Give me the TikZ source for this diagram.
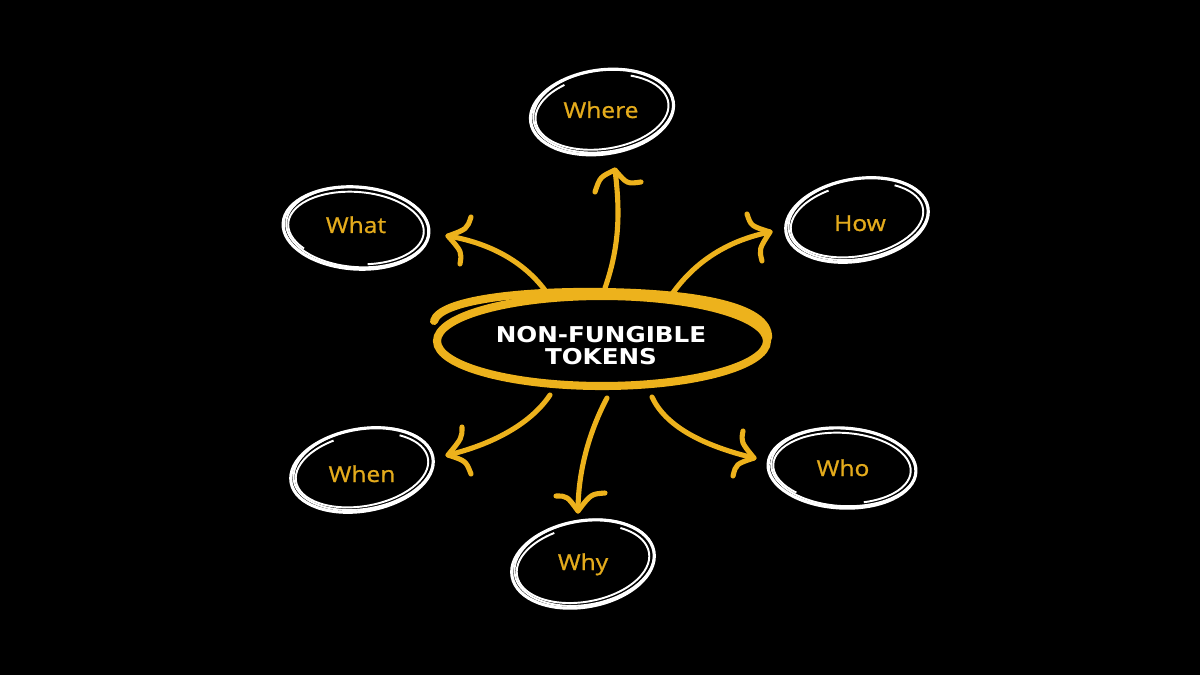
\documentclass[tikz,border=0pt]{standalone}
\usepackage{fontspec}
\setmainfont{Open Sans}
\newfontfamily\lblfont{Open Sans}[FakeBold=0.9]
\newfontfamily\headfont{DejaVu Sans}
\usepackage{graphicx}
\definecolor{nftgold}{HTML}{EDB21C}
\definecolor{lblgold}{HTML}{E4AB1C}
\tikzset{
  shaft/.style={draw=nftgold, line width=2.9pt, line cap=round, line join=round},
  barb/.style={shaft},
  hubring/.style={draw=nftgold, line width=4.6pt, line cap=round},
  ringline/.style={draw=white, line width=1.8pt},
  ringthin/.style={draw=white, line width=1.1pt},
  lbl/.style={text=lblgold, font=\lblfont\fontsize{12.5}{14}\selectfont, anchor=base, inner sep=0pt},
  hub/.style={text=white, font=\headfont\bfseries\fontsize{12.4}{12.6}\selectfont, align=center, inner sep=0pt},
}
\newcommand\lblx[1]{\scalebox{1.12}[1]{#1}}
\newcommand\handring[6]{%
  \begin{scope}[rotate around={#5:(#1,#2)}]
    \draw[ringline] (#1,#2) ellipse [x radius=#3, y radius=#4];
    \draw[ringthin] ({#1+1.5},{#2-1}) ellipse [x radius={#3-1.5}, y radius={#4-1}];
    \draw[ringthin] ({#1+#3*cos(#6)*0.93},{#2+#4*sin(#6)*0.88}) arc[start angle=#6, delta angle=300, x radius={#3*0.93}, y radius={#4*0.88}];
  \end{scope}}
\begin{document}
\begin{tikzpicture}[x=0.02cm, y=-0.02cm]
\fill[black] (0,0) rectangle (1200,675);
\useasboundingbox (0,0) rectangle (1200,675);

% hub ring
\draw[hubring] (602,341) ellipse [x radius=165, y radius=45];
\draw[hubring] (434,321) .. controls (440,300) and (520,291) .. (600,292) .. controls (690,293) and (770,305) .. (768,338);
\node[hub] (hub) at (601,346) {\scalebox{1.13}[1]{NON-FUNGIBLE}\\\scalebox{1.13}[1]{TOKENS}};

% labels
\node[lbl] (where) at (601,118) {\lblx{Where}};
\node[lbl] (what) at (356,233) {\lblx{What}};
\node[lbl] (how) at (860,231) {\lblx{How}};
\node[lbl] (when) at (362,482) {\lblx{When}};
\node[lbl] (who) at (843,476) {\lblx{Who}};
\node[lbl] (why) at (583,570) {\lblx{Why}};

% white hand-drawn rings
\handring{602}{112}{72}{42}{8}{-60}
\handring{356}{228}{73}{41}{-4}{138}
\handring{857}{220}{72}{41}{10}{-50}
\handring{362}{470}{72}{41}{10}{-50}
\handring{842}{468}{74}{40}{-3}{130}
\handring{583}{564}{72}{43}{10}{-50}

% start points on hub ring, tips near labels
\coordinate (sWhat) at (547,293);  \coordinate (tWhat) at (448,236);
\coordinate (sWhere) at (605,288); \coordinate (tWhere) at (615,170);
\coordinate (sHow) at (670,297);   \coordinate (tHow) at (770,232);
\coordinate (sWhen) at (550,395);  \coordinate (tWhen) at (448,455);
\coordinate (sWhy) at (607,398);   \coordinate (tWhy) at (578,511);
\coordinate (sWho) at (652,397);   \coordinate (tWho) at (754,458);

% shafts
\draw[shaft] (sWhat) .. controls (525,262) and (490,243) .. (tWhat);
\draw[shaft] (sWhere) .. controls (620,245) and (620,210) .. (tWhere);
\draw[shaft] (sHow) .. controls (695,260) and (730,240) .. (tHow);
\draw[shaft] (sWhen) .. controls (530,425) and (490,445) .. (tWhen);
\draw[shaft] (sWhy) .. controls (590,430) and (578,470) .. (tWhy);
\draw[shaft] (sWho) .. controls (665,425) and (700,445) .. (tWho);

% curly arrow heads
\draw[barb] (471,217) .. controls (467,229) .. (tWhat) .. controls (462,252) .. (460,264);
\draw[barb] (595,192) .. controls (600,177) .. (tWhere) .. controls (627,184) .. (641,182);
\draw[barb] (747,214) .. controls (751,226) .. (tHow) .. controls (759,249) .. (762,261);
\draw[barb] (462,427) .. controls (462,438) .. (tWhen) .. controls (466,461) .. (471,474);
\draw[barb] (556,496) .. controls (567,496) .. (tWhy) .. controls (591,494) .. (605,493);
\draw[barb] (743,431) .. controls (741,442) .. (tWho) .. controls (736,464) .. (733,476);
\end{tikzpicture}
\end{document}
